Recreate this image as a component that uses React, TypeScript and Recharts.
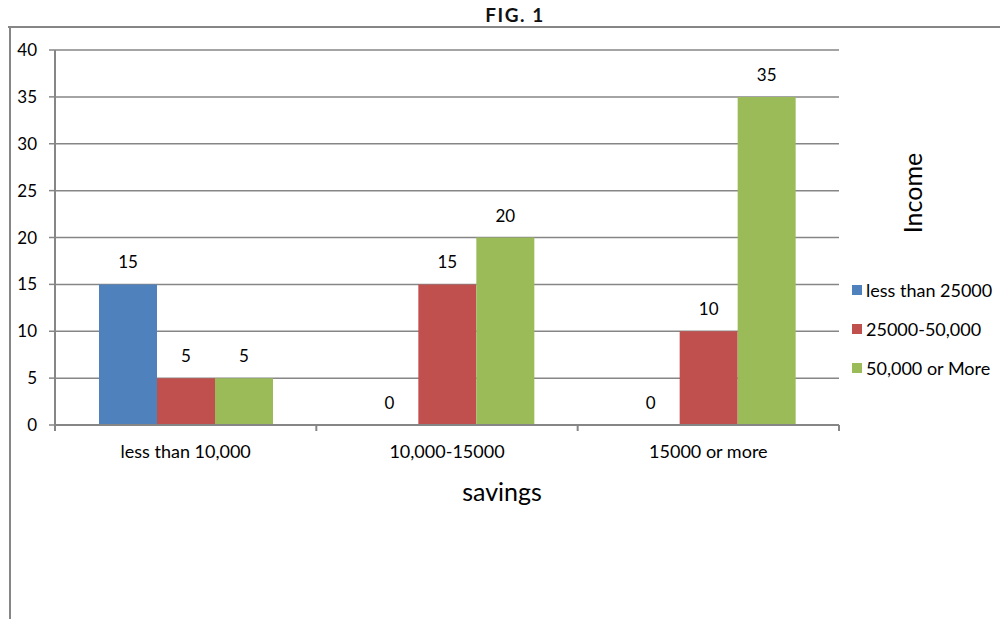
import { BarChart, Bar, XAxis, YAxis, CartesianGrid, LabelList } from 'recharts';

const savingsGroups = ['less than 10,000', '10,000-15000', '15000 or more'];
const lowIncome = [15, 0, 0];
const midIncome = [5, 15, 10];
const highIncome = [5, 20, 35];
const yTicks = [0, 5, 10, 15, 20, 25, 30, 35, 40];

const seriesInfo = [
  { key: 'low', name: 'less than 25000', color: '#4F81BD' },
  { key: 'mid', name: '25000-50,000', color: '#C0504D' },
  { key: 'high', name: '50,000 or More', color: '#9BBB59' },
];

const rows = savingsGroups.map((group, i) => ({
  group,
  low: lowIncome[i],
  mid: midIncome[i],
  high: highIncome[i],
}));

const FONT = 'Lato, "Open Sans", sans-serif';
const AXIS_GRAY = '#868686';

// category labels plus tick marks on the band edges, like a spreadsheet chart
const GroupTick = (props: any) => {
  const { x, y, payload, index, visibleTicksCount } = props;
  const half = payload?.offset ?? 784 / 6;
  const last = index === (visibleTicksCount ?? 3) - 1;
  return (
    <g>
      <line x1={x - half} x2={x - half} y1={y} y2={y + 6} stroke={AXIS_GRAY} strokeWidth={2} />
      {last && <line x1={x + half} x2={x + half} y1={y} y2={y + 6} stroke={AXIS_GRAY} strokeWidth={2} />}
      <text x={x} y={y + 27} dy="0.35em" textAnchor="middle" fontSize={18} fill="#000" fontFamily={FONT}>
        {payload.value}
      </text>
    </g>
  );
};

const IncomeLegend = () => (
  <div style={{ position: 'absolute', left: 852, top: 270, fontFamily: FONT, fontSize: 18, color: '#000' }}>
    {seriesInfo.map((s) => (
      <div key={s.key} style={{ display: 'flex', alignItems: 'center', height: 39 }}>
        <span style={{ width: 10, height: 10, background: s.color, marginRight: 4, display: 'inline-block' }} />
        <span>{s.name}</span>
      </div>
    ))}
  </div>
);

export default function App() {
  return (
    <div style={{ position: 'relative', width: 1008, height: 627, margin: -8, background: '#fff', overflow: 'hidden' }}>
      <div style={{ position: 'absolute', left: 0, top: 0, width: 1008, height: 2, background: '#000' }} />
      <div
        style={{
          position: 'absolute', left: 0, top: 3, width: 1030, textAlign: 'center',
          fontFamily: FONT, fontWeight: 700, fontSize: 19, letterSpacing: 1.5, color: '#111',
        }}
      >
        FIG. 1
      </div>
      <div style={{ position: 'absolute', left: 0, top: 26, width: 1008, height: 2, background: AXIS_GRAY }} />
      <div style={{ position: 'absolute', left: 9, top: 26, width: 2, height: 601, background: AXIS_GRAY }} />

      <div style={{ position: 'absolute', left: 0, top: 0 }}>
        <BarChart
          width={1008}
          height={627}
          data={rows}
          margin={{ top: 50, right: 169, left: 0, bottom: 162 }}
          barCategoryGap={44}
          barGap={0}
        >
          <CartesianGrid horizontal vertical={false} stroke={AXIS_GRAY} strokeWidth={1.5} />
          <YAxis
            width={55}
            domain={[0, 40]}
            ticks={yTicks}
            interval={0}
            axisLine={{ stroke: AXIS_GRAY, strokeWidth: 2 }}
            tickLine={{ stroke: AXIS_GRAY, strokeWidth: 1.5 }}
            tickSize={6}
            tickMargin={12}
            tick={{ fontSize: 17, fill: '#000', fontFamily: FONT }}
          />
          <XAxis
            dataKey="group"
            height={40}
            interval={0}
            axisLine={{ stroke: AXIS_GRAY, strokeWidth: 2 }}
            tickLine={false}
            tickSize={0}
            tickMargin={0}
            tick={<GroupTick />}
          />
          {seriesInfo.map((s) => (
            <Bar
              key={s.key}
              dataKey={s.key}
              name={s.name}
              fill={s.color}
              minPointSize={0.01}
              isAnimationActive={false}
            >
              <LabelList dataKey={s.key} position="top" offset={16} fontSize={17} fill="#000" fontFamily={FONT} />
            </Bar>
          ))}
        </BarChart>
      </div>

      <IncomeLegend />

      <div
        style={{
          position: 'absolute', left: 912, top: 193, transform: 'translate(-50%, -50%) rotate(-90deg)',
          fontFamily: FONT, fontSize: 25, color: '#000', whiteSpace: 'nowrap',
        }}
      >
        Income
      </div>
      <div
        style={{
          position: 'absolute', left: 502, top: 491, transform: 'translate(-50%, -50%)',
          fontFamily: FONT, fontSize: 25, color: '#000', whiteSpace: 'nowrap',
        }}
      >
        savings
      </div>
    </div>
  );
}
